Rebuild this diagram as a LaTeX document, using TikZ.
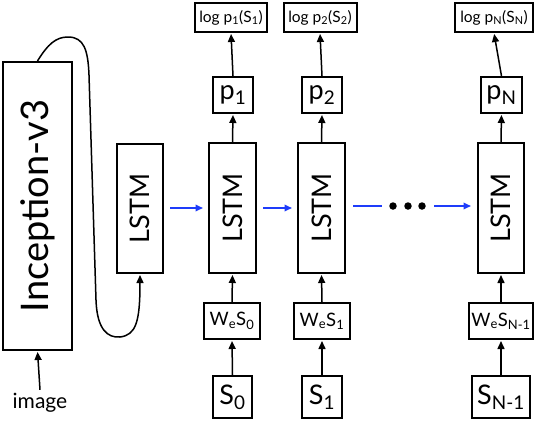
\documentclass[tikz,border=0pt]{standalone}
\usepackage{fontspec}
\setmainfont{Lato}
\usetikzlibrary{arrows.meta}
\definecolor{arrblue}{RGB}{30,60,250}
\tikzset{
  box/.style={draw, line width=2pt, inner sep=2pt},
  arr/.style={line width=1.5pt, -{Triangle[length=8pt,width=7pt]}},
  barr/.style={line width=1.7pt, arrblue, -{Triangle[length=7.5pt,width=6.5pt]}},
  bline/.style={line width=1.7pt, arrblue},
  dot/.style={circle, fill=black, inner sep=0pt, minimum size=7.5pt},
  vtext/.style={rotate=90},
}
\begin{document}
\begin{tikzpicture}[x=1pt,y=-1pt]
\useasboundingbox (0,0) rectangle (542,424);
% Inception
\node[box, minimum width=69pt, minimum height=288pt] (incep) at (37.5,206) {};
\node[vtext, font=\fontsize{38}{38}\selectfont] (inceptxt) at (incep.center) {Inception-v3};
\node[font=\fontsize{21}{21}\selectfont] (img) at (40,403) {image};
% LSTMs
\node[box, minimum width=46pt, minimum height=129pt] (l0) at (140,208.5) {};
\node[box, minimum width=47pt, minimum height=130pt] (l1) at (232.5,208) {};
\node[box, minimum width=47pt, minimum height=130pt] (l2) at (321.5,208) {};
\node[box, minimum width=46pt, minimum height=130pt] (lN) at (501,208) {};
\foreach \n in {l0,l1,l2,lN}{
  \node[vtext, font=\fontsize{27}{27}\selectfont] at (\n.center) {LSTM};
}
% p boxes
\node[box, minimum width=40pt, minimum height=36pt, font=\fontsize{27}{27}\selectfont] (p1) at (233,95) {p\textsubscript{1}};
\node[box, minimum width=40pt, minimum height=36pt, font=\fontsize{27}{27}\selectfont] (p2) at (322,95) {p\textsubscript{2}};
\node[box, minimum width=41pt, minimum height=36pt, font=\fontsize{27}{27}\selectfont] (pN) at (501.5,95) {p\textsubscript{N}};
% log boxes
\node[box, minimum width=72pt, minimum height=29pt, font=\fontsize{15.5}{15.5}\selectfont] (g1) at (231,17.5) {log p\textsubscript{1}(S\textsubscript{1})};
\node[box, minimum width=73pt, minimum height=29pt, font=\fontsize{15.5}{15.5}\selectfont] (g2) at (320,17.5) {log p\textsubscript{2}(S\textsubscript{2})};
\node[box, minimum width=78pt, minimum height=29pt, font=\fontsize{15.5}{15.5}\selectfont] (gN) at (494,17.5) {log p\textsubscript{N}(S\textsubscript{N})};
% WeS boxes
\node[box, minimum width=56pt, minimum height=36pt, font=\fontsize{18.5}{18.5}\selectfont] (w0) at (232,321) {W\textsubscript{e}S\textsubscript{0}};
\node[box, minimum width=56pt, minimum height=36pt, font=\fontsize{18.5}{18.5}\selectfont] (w1) at (322,321) {W\textsubscript{e}S\textsubscript{1}};
\node[box, minimum width=62pt, minimum height=36pt, font=\fontsize{18.5}{18.5}\selectfont] (wN) at (501,321) {W\textsubscript{e}S\textsubscript{N-1}};
% S boxes
\node[box, minimum width=39pt, minimum height=42pt, font=\fontsize{27}{27}\selectfont] (s0) at (232.5,397) {S\textsubscript{0}};
\node[box, minimum width=40pt, minimum height=42pt, font=\fontsize{27}{27}\selectfont] (s1) at (322,397) {S\textsubscript{1}};
\node[box, minimum width=58pt, minimum height=42pt, font=\fontsize{27}{27}\selectfont] (sN) at (501,397) {S\textsubscript{N-1}};
% dots
\node[dot] (d1) at (393,206) {};
\node[dot] (d2) at (408,206) {};
\node[dot] (d3) at (422,206) {};
% vertical arrows
\draw[arr, shorten >=1pt] (img.north) -- (incep.south);
\foreach \a/\b in {s0/w0,s1/w1,sN/wN,w0/l1,w1/l2,wN/lN,l1/p1,l2/p2,lN/pN,p1/g1,p2/g2,pN/gN}{
  \draw[arr, shorten >=1pt] (\a.north) -- (\b.south);
}
% blue arrows
\draw[barr, shorten <=6pt, shorten >=5pt] (l0.east |- 0,208) -- (l1.west |- 0,208);
\draw[barr, shorten <=6pt, shorten >=5pt] (l1.east |- 0,208) -- (l2.west |- 0,208);
\draw[bline, shorten <=7pt, shorten >=7.5pt] (l2.east |- d1) -- (d1.west);
\draw[barr, shorten <=8.5pt, shorten >=6pt] (d3.east) -- (lN.west |- d3);
% curve
\draw[line width=1.5pt, -{Triangle[length=8pt,width=7pt]}, shorten >=1pt]
  (incep.north) .. controls (48,44) and (56,37) .. (68,37)
  .. controls (84,37) and (88,50) .. (89,75)
  -- (96,300) .. controls (97,330) and (108,338) .. (120,337)
  .. controls (136,335) and (140,322) .. (l0.south);
\end{tikzpicture}
\end{document}
